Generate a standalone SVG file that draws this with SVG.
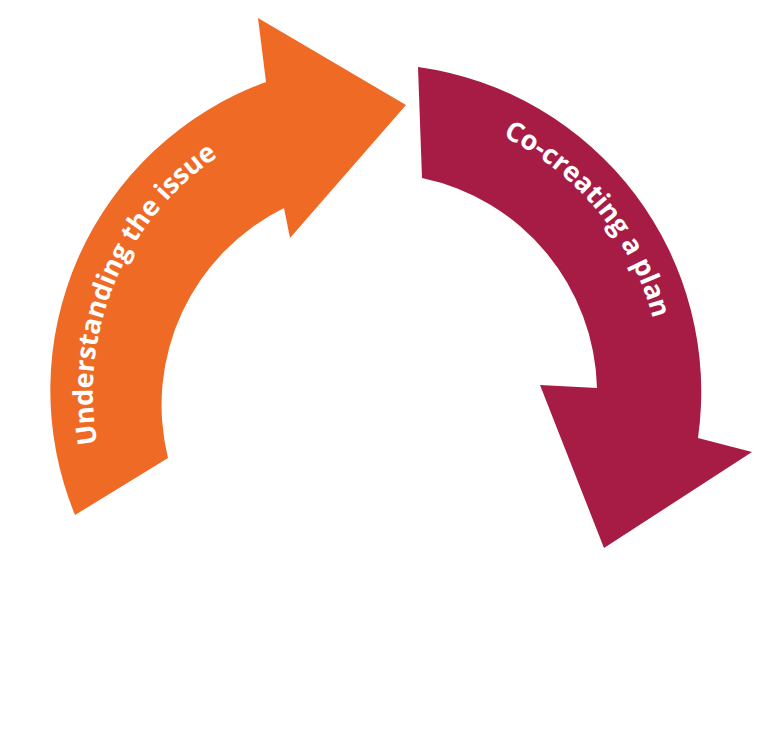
<svg xmlns="http://www.w3.org/2000/svg" width="768" height="748" viewBox="0 0 768 748">
<defs>
<style>.t{font-family:"Open Sans",sans-serif;font-weight:700;font-size:27px;fill:#fff}</style>
<path id="arc" d="M 110 490 A 285 285 0 1 1 596 576" fill="none"/>
</defs>
<rect width="768" height="748" fill="#fff"/>
<g id="understanding">
<path d="M 75 515 A 328 328 0 0 1 266 82 L 258 18 L 406 105 L 290 238 L 284 208 A 220 220 0 0 0 168 458 Z" fill="#ef6a25"/>
<text class="t"><textPath href="#arc" startOffset="48">Understanding the issue</textPath></text>
</g>
<g id="cocreating">
<path d="M 418 67 A 328 328 0 0 1 698 438 L 752 452 L 604 548 L 540 385 L 597 388 A 220 220 0 0 0 422 178 Z" fill="#a61c45"/>
<text class="t"><textPath href="#arc" startOffset="676">Co-creating a plan</textPath></text>
</g>
<g id="connectors"/>
</svg>
